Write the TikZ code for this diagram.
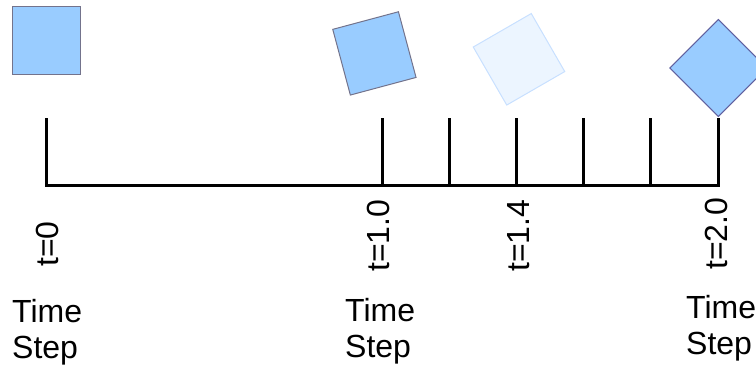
\documentclass[tikz,border=0pt]{standalone}
\usepackage{fontspec}
\setmainfont{Liberation Sans}
\begin{document}
\begin{tikzpicture}[x=1pt,y=-1pt,
  box/.style={draw=gray!90!blue, line width=1pt, fill=boxblue, minimum size=68pt, inner sep=0pt},
  ghost/.style={draw=ghostedge, line width=1pt, fill=ghostfill, minimum size=67pt, inner sep=0pt},
  axis/.style={line width=3pt, line join=miter},
  ticklabel/.style={rotate=90, anchor=west, inner sep=0pt, font=\fontsize{32}{36}\selectfont},
  steplabel/.style={anchor=base west, inner sep=0pt, align=left, font=\fontsize{32}{35.5}\selectfont}]
\definecolor{boxblue}{RGB}{153,204,255}
\definecolor{ghostfill}{RGB}{236,245,255}
\definecolor{ghostedge}{RGB}{200,224,255}
\useasboundingbox (0,0) rectangle (756,370);

% the rotating square at each time step
\node[box] (sq0) at (46.9,40) {};
\node[box, rotate=15] (sq1) at (374.4,53.4) {};
\node[ghost, rotate=30] (sq14) at (519,59.3) {};
\node[box, draw=gray!75!blue, rotate=45, minimum size=68.6pt] (sq2) at (718.3,68) {};

% time axis and ticks
\foreach \i/\x in {0/46,1/382,2/449.2,3/516.4,4/583.6,5/650.8,6/718} {
  \coordinate (top\i) at (\x,118);
  \coordinate (base\i) at (\x,185);
}
\draw[axis] (top0) -- (base0) -- (base6) -- (top6);
\foreach \i in {1,...,5} \draw[axis] (top\i) -- (base\i);

% tick labels
\node[ticklabel] (l0) at (47,267) {t=0};
\node[ticklabel] (l1) at (378.5,272) {t=1.0};
\node[ticklabel] (l14) at (518.5,272) {t=1.4};
\node[ticklabel] (l2) at (716.5,270) {t=2.0};

% the base anchor sits on the last line
\node[steplabel] (s0) at (12,358) {Time\\Step};
\node[steplabel] (s1) at (345,357) {Time\\Step};
\node[steplabel] (s2) at (686,354) {Time\\Step};
\end{tikzpicture}
\end{document}
